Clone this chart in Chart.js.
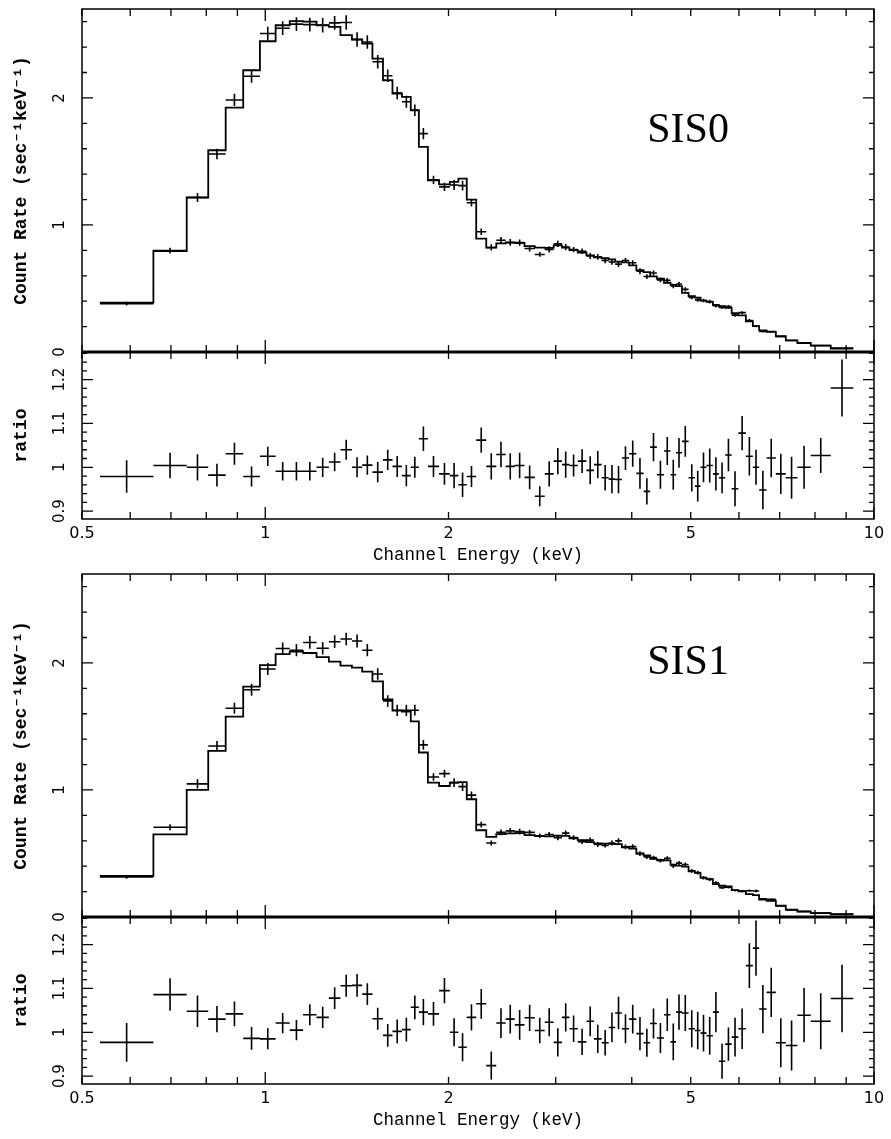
<!DOCTYPE html>
<html>
<head>
<meta charset="utf-8">
<title>SIS0 / SIS1 spectra</title>
<script src="https://cdn.jsdelivr.net/npm/chart.js@4.4.1/dist/chart.umd.min.js"></script>
<style>
  body { margin: 0; background: #fff; }
  canvas { position: absolute; left: 0; }
  #sis0 { top: 0; }
  #sis1 { top: 565px; }
</style>
</head>
<body>
<canvas id="sis0" width="891" height="567"></canvas>
<canvas id="sis1" width="891" height="567"></canvas>
<script>
// channel bin edges (keV), same grouping for both detectors
const binEdges = [0.535, 0.655, 0.743, 0.806, 0.861, 0.920, 0.980, 1.040, 1.097, 1.154,
  1.214, 1.272, 1.329, 1.388, 1.443, 1.500, 1.561, 1.618, 1.677, 1.734,
  1.788, 1.850, 1.930, 2.010, 2.076, 2.143, 2.221, 2.307, 2.396, 2.483,
  2.570, 2.666, 2.772, 2.878, 2.977, 3.072, 3.160, 3.261, 3.370, 3.467,
  3.569, 3.666, 3.757, 3.853, 3.960, 4.070, 4.183, 4.288, 4.398, 4.519,
  4.632, 4.729, 4.837, 4.959, 5.080, 5.188, 5.307, 5.437, 5.562, 5.696,
  5.837, 5.987, 6.159, 6.324, 6.476, 6.662, 6.898, 7.163, 7.484, 7.872,
  8.491, 9.247];

// SIS0
const sis0Model = [0.389, 0.795, 1.216, 1.588, 1.924, 2.218, 2.446, 2.572, 2.604, 2.600,
  2.572, 2.560, 2.494, 2.460, 2.428, 2.310, 2.139, 2.035, 2.008, 1.903,
  1.614, 1.352, 1.320, 1.339, 1.365, 1.200, 0.892, 0.821, 0.855, 0.861,
  0.858, 0.834, 0.822, 0.820, 0.839, 0.821, 0.803, 0.782, 0.761, 0.745,
  0.738, 0.729, 0.712, 0.705, 0.682, 0.645, 0.629, 0.595, 0.578, 0.545,
  0.528, 0.518, 0.466, 0.440, 0.428, 0.405, 0.395, 0.370, 0.360, 0.347,
  0.305, 0.288, 0.242, 0.203, 0.170, 0.158, 0.124, 0.092, 0.071, 0.050, 0.026];
const sis0Rate = [0.381, 0.798, 1.216, 1.559, 1.984, 2.171, 2.507, 2.549, 2.581, 2.577,
  2.572, 2.591, 2.594, 2.460, 2.440, 2.285, 2.175, 2.039, 1.970, 1.903,
  1.719, 1.355, 1.300, 1.314, 1.310, 1.175, 0.947, 0.823, 0.880, 0.863,
  0.861, 0.815, 0.768, 0.808, 0.851, 0.826, 0.806, 0.793, 0.756, 0.749,
  0.720, 0.709, 0.692, 0.720, 0.703, 0.636, 0.594, 0.622, 0.568, 0.565,
  0.519, 0.535, 0.493, 0.429, 0.410, 0.405, 0.397, 0.364, 0.351, 0.357,
  0.290, 0.310, 0.248, 0.203, 0.161, 0.161, 0.122, 0.090, 0.071, 0.051, 0.031];
const sis0RateErr = [0.014, 0.023, 0.036, 0.041, 0.048, 0.051, 0.054, 0.054, 0.055, 0.055,
  0.057, 0.054, 0.057, 0.057, 0.053, 0.053, 0.049, 0.049, 0.048, 0.046,
  0.045, 0.032, 0.033, 0.039, 0.038, 0.029, 0.026, 0.025, 0.025, 0.026,
  0.025, 0.023, 0.019, 0.024, 0.025, 0.025, 0.020, 0.021, 0.024, 0.023,
  0.021, 0.023, 0.022, 0.019, 0.020, 0.023, 0.019, 0.019, 0.018, 0.017,
  0.018, 0.018, 0.016, 0.014, 0.015, 0.014, 0.015, 0.014, 0.013, 0.013,
  0.012, 0.011, 0.011, 0.008, 0.007, 0.007, 0.006, 0.004, 0.003, 0.002, 0.002];
const sis0Ratio = [0.979, 1.004, 1.000, 0.982, 1.031, 0.979, 1.025, 0.991, 0.991, 0.991,
  1.000, 1.012, 1.040, 1.000, 1.005, 0.989, 1.017, 1.002, 0.981, 1.000,
  1.065, 1.002, 0.985, 0.981, 0.960, 0.979, 1.062, 1.002, 1.029, 1.002,
  1.004, 0.977, 0.934, 0.985, 1.014, 1.006, 1.004, 1.014, 0.993, 1.006,
  0.976, 0.973, 0.972, 1.021, 1.031, 0.986, 0.945, 1.046, 0.983, 1.037,
  0.983, 1.033, 1.059, 0.976, 0.957, 1.000, 1.004, 0.985, 0.976, 1.028,
  0.951, 1.078, 1.025, 1.000, 0.948, 1.021, 0.985, 0.976, 1.000, 1.027, 1.181];
const sis0RatioErr = [0.037, 0.029, 0.030, 0.026, 0.025, 0.023, 0.022, 0.021, 0.021, 0.021,
  0.022, 0.021, 0.023, 0.023, 0.022, 0.023, 0.023, 0.024, 0.024, 0.024,
  0.028, 0.024, 0.025, 0.029, 0.028, 0.024, 0.029, 0.030, 0.029, 0.030,
  0.029, 0.027, 0.023, 0.029, 0.030, 0.030, 0.025, 0.027, 0.032, 0.031,
  0.029, 0.032, 0.031, 0.027, 0.030, 0.035, 0.030, 0.032, 0.032, 0.032,
  0.034, 0.034, 0.035, 0.031, 0.035, 0.034, 0.039, 0.038, 0.035, 0.037,
  0.040, 0.039, 0.044, 0.040, 0.044, 0.044, 0.046, 0.048, 0.049, 0.040, 0.065];

// SIS1
const sis1Model = [0.323, 0.651, 1.000, 1.307, 1.577, 1.814, 1.982, 2.070, 2.090, 2.078,
  2.045, 2.010, 1.978, 1.963, 1.932, 1.855, 1.713, 1.624, 1.617, 1.540,
  1.295, 1.058, 1.031, 1.058, 1.062, 0.927, 0.683, 0.631, 0.652, 0.658,
  0.661, 0.645, 0.636, 0.634, 0.640, 0.638, 0.620, 0.605, 0.590, 0.580,
  0.578, 0.576, 0.574, 0.548, 0.538, 0.500, 0.485, 0.458, 0.450, 0.445,
  0.412, 0.405, 0.396, 0.360, 0.348, 0.310, 0.298, 0.258, 0.246, 0.240,
  0.212, 0.202, 0.180, 0.172, 0.136, 0.128, 0.089, 0.058, 0.042, 0.031, 0.021];
const sis1Rate = [0.316, 0.707, 1.048, 1.346, 1.643, 1.789, 1.952, 2.113, 2.100, 2.161,
  2.115, 2.167, 2.188, 2.173, 2.100, 1.913, 1.701, 1.627, 1.627, 1.628,
  1.355, 1.102, 1.129, 1.058, 1.026, 0.959, 0.727, 0.583, 0.666, 0.678,
  0.672, 0.666, 0.639, 0.649, 0.625, 0.660, 0.625, 0.592, 0.605, 0.571,
  0.564, 0.582, 0.599, 0.552, 0.554, 0.499, 0.473, 0.467, 0.444, 0.463,
  0.403, 0.424, 0.413, 0.363, 0.349, 0.309, 0.296, 0.270, 0.230, 0.234,
  0.210, 0.204, 0.207, 0.205, 0.143, 0.140, 0.087, 0.056, 0.044, 0.032, 0.023];
const sis1RateErr = [0.014, 0.024, 0.036, 0.039, 0.044, 0.047, 0.048, 0.048, 0.048, 0.050,
  0.049, 0.050, 0.049, 0.051, 0.048, 0.046, 0.045, 0.044, 0.044, 0.042,
  0.039, 0.029, 0.030, 0.034, 0.034, 0.028, 0.023, 0.020, 0.022, 0.022,
  0.022, 0.019, 0.018, 0.020, 0.020, 0.020, 0.019, 0.018, 0.020, 0.019,
  0.017, 0.020, 0.021, 0.018, 0.018, 0.019, 0.016, 0.016, 0.015, 0.016,
  0.017, 0.016, 0.016, 0.015, 0.015, 0.013, 0.013, 0.012, 0.010, 0.009,
  0.009, 0.009, 0.009, 0.011, 0.007, 0.007, 0.005, 0.003, 0.003, 0.002, 0.002];
const sis1Ratio = [0.977, 1.086, 1.048, 1.030, 1.042, 0.986, 0.985, 1.021, 1.005, 1.040,
  1.034, 1.078, 1.106, 1.107, 1.087, 1.031, 0.993, 1.002, 1.006, 1.057,
  1.046, 1.042, 1.095, 1.000, 0.966, 1.034, 1.065, 0.924, 1.021, 1.030,
  1.017, 1.033, 1.004, 1.023, 0.977, 1.034, 1.008, 0.978, 1.025, 0.985,
  0.976, 1.011, 1.044, 1.008, 1.030, 0.997, 0.976, 1.020, 0.987, 1.040,
  0.978, 1.046, 1.044, 1.008, 1.004, 0.998, 0.992, 1.046, 0.934, 0.973,
  0.989, 1.008, 1.152, 1.192, 1.053, 1.091, 0.976, 0.970, 1.039, 1.025, 1.077];
const sis1RatioErr = [0.044, 0.037, 0.036, 0.030, 0.028, 0.026, 0.024, 0.023, 0.023, 0.024,
  0.024, 0.025, 0.025, 0.026, 0.025, 0.025, 0.026, 0.027, 0.027, 0.027,
  0.030, 0.027, 0.029, 0.032, 0.032, 0.030, 0.034, 0.032, 0.034, 0.033,
  0.034, 0.030, 0.029, 0.032, 0.032, 0.032, 0.030, 0.030, 0.034, 0.032,
  0.029, 0.034, 0.037, 0.033, 0.033, 0.038, 0.032, 0.034, 0.034, 0.037,
  0.042, 0.040, 0.041, 0.042, 0.043, 0.042, 0.043, 0.046, 0.040, 0.038,
  0.044, 0.046, 0.051, 0.063, 0.055, 0.056, 0.056, 0.057, 0.062, 0.064, 0.077];

// axes
const energyTicks = [0.5, 0.6, 0.7, 0.8, 0.9, 1, 2, 3, 4, 5, 6, 7, 8, 9, 10];
const energyLabels = [0.5, 1, 2, 5, 10];
const rateLabels = [0, 1, 2];
const ratioLabels = [0.9, 1, 1.1, 1.2];

const MONO = '"Liberation Mono", "DejaVu Sans Mono", monospace';
const SANS = '"DejaVu Sans", sans-serif';

function stepLine(model) {
  const pts = [];
  model.forEach((m, i) => {
    pts.push({ x: binEdges[i], y: m }, { x: binEdges[i + 1], y: m });
  });
  return pts;
}

function crosses(vals, errs) {
  return vals.map((v, i) => ({
    x: Math.sqrt(binEdges[i] * binEdges[i + 1]), y: v,
    lo: binEdges[i], hi: binEdges[i + 1], err: errs[i]
  }));
}

function steps(from, to, step) {
  const out = [];
  for (let k = 0; from + k * step <= to + 1e-9; k++) {
    out.push({ value: Math.round((from + k * step) * 1000) / 1000 });
  }
  return out;
}

function near(v, list) {
  return list.some(l => Math.abs(l - v) < 1e-6);
}

// crosses, frame, inward ticks and the rotated y labels
const framePlugin = {
  id: 'frame',
  afterDatasetsDraw(chart, args, opts) {
    const { ctx } = chart;
    const x = chart.scales.x, y = chart.scales.y, r = chart.scales.r;
    ctx.save();
    ctx.strokeStyle = '#000';
    ctx.fillStyle = '#000';

    chart.data.datasets.forEach(ds => {
      if (!ds.cross) return;
      const s = chart.scales[ds.yAxisID];
      ctx.lineWidth = 1.6;
      ctx.beginPath();
      ds.data.forEach(p => {
        const px = x.getPixelForValue(p.x), py = s.getPixelForValue(p.y);
        ctx.moveTo(x.getPixelForValue(p.lo), py);
        ctx.lineTo(x.getPixelForValue(p.hi), py);
        ctx.moveTo(px, s.getPixelForValue(p.y - p.err));
        ctx.lineTo(px, s.getPixelForValue(p.y + p.err));
      });
      ctx.stroke();
    });

    ctx.lineWidth = 1.5;
    [y, r].forEach(s => ctx.strokeRect(x.left, s.top, x.right - x.left, s.bottom - s.top));
    ctx.lineWidth = 3;
    ctx.beginPath();
    ctx.moveTo(x.left, y.bottom);
    ctx.lineTo(x.right, y.bottom);
    ctx.stroke();

    ctx.lineWidth = 1.3;
    ctx.beginPath();
    x.ticks.forEach(t => {
      const px = x.getPixelForValue(t.value);
      const len = Number.isInteger(Math.round(Math.log10(t.value) * 1e6) / 1e6) ? 12 : 7;
      [[y.top, 1], [y.bottom, -1], [r.top, 1], [r.bottom, -1]].forEach(([py, d]) => {
        ctx.moveTo(px, py);
        ctx.lineTo(px, py + d * len);
      });
    });
    [[y, rateLabels], [r, ratioLabels]].forEach(([s, major]) => {
      s.ticks.forEach(t => {
        const py = s.getPixelForValue(t.value);
        const len = near(t.value, major) ? 11 : 5;
        ctx.moveTo(x.left, py);
        ctx.lineTo(x.left + len, py);
        ctx.moveTo(x.right, py);
        ctx.lineTo(x.right - len, py);
      });
    });
    ctx.stroke();

    ctx.font = '15px ' + SANS;
    ctx.textAlign = 'center';
    ctx.textBaseline = 'middle';
    [[y, rateLabels], [r, ratioLabels]].forEach(([s, labels]) => {
      labels.forEach(v => {
        ctx.save();
        ctx.translate(opts.labelX, s.getPixelForValue(v));
        ctx.rotate(-Math.PI / 2);
        ctx.fillText(String(v), 0, 0);
        ctx.restore();
      });
    });

    ctx.font = '42px "Liberation Serif", serif';
    ctx.fillText(opts.tag, x.getPixelForValue(opts.tagAt[0]), y.getPixelForValue(opts.tagAt[1]));
    ctx.restore();
  }
};

function makeChart(id, tag, tagAt, model, rate, rateErr, ratio, ratioErr) {
  return new Chart(document.getElementById(id), {
    type: 'line',
    data: {
      datasets: [
        { data: stepLine(model), yAxisID: 'y', borderColor: '#000', borderWidth: 1.8, pointRadius: 0 },
        { data: crosses(rate, rateErr), yAxisID: 'y', showLine: false, pointRadius: 0, cross: true },
        { data: crosses(ratio, ratioErr), yAxisID: 'r', showLine: false, pointRadius: 0, cross: true },
        { data: [{ x: 0.5, y: 1 }, { x: 10, y: 1 }], yAxisID: 'r', borderColor: '#000',
          borderWidth: 1.5, borderDash: [9, 6], pointRadius: 0 }
      ]
    },
    options: {
      responsive: false,
      animation: false,
      events: [],
      layout: { padding: { top: 9, right: 17, left: 0, bottom: 0 } },
      plugins: {
        legend: { display: false },
        tooltip: { enabled: false },
        frame: { tag: tag, tagAt: tagAt, labelX: 60 }
      },
      scales: {
        x: {
          type: 'logarithmic',
          min: 0.5,
          max: 10,
          grid: { display: false, drawTicks: false },
          border: { display: false },
          afterBuildTicks: s => { s.ticks = energyTicks.map(v => ({ value: v })); },
          afterFit: s => { s.height = 48; },
          ticks: {
            autoSkip: false,
            maxRotation: 0,
            padding: 5,
            color: '#000',
            font: { family: SANS, size: 16 },
            callback: v => near(v, energyLabels) ? String(v) : ''
          },
          title: {
            display: true,
            text: 'Channel Energy (keV)',
            color: '#000',
            font: { family: MONO, size: 17.5 },
            padding: { top: 0, bottom: 1 }
          }
        },
        // listed bottom-first: the layout stacks left axes in reverse order
        r: {
          type: 'linear',
          position: 'left',
          stack: 'det',
          stackWeight: 167,
          min: 0.882,
          max: 1.263,
          grid: { display: false, drawTicks: false },
          border: { display: false },
          afterBuildTicks: s => { s.ticks = steps(0.9, 1.26, 0.02); },
          afterFit: s => { s.width = 82; },
          ticks: { display: false },
          title: {
            display: true,
            text: 'ratio',
            color: '#000',
            font: { family: MONO, size: 18, weight: 'bold' },
            padding: { top: 11, bottom: 0 }
          }
        },
        y: {
          type: 'linear',
          position: 'left',
          stack: 'det',
          stackWeight: 343,
          min: 0,
          max: 2.7,
          grid: { display: false, drawTicks: false },
          border: { display: false },
          afterBuildTicks: s => { s.ticks = steps(0, 2.6, 0.2); },
          afterFit: s => { s.width = 82; },
          ticks: { display: false },
          title: {
            display: true,
            text: 'Count Rate (sec\u207B\u00B9keV\u207B\u00B9)',
            color: '#000',
            font: { family: MONO, size: 18, weight: 'bold' },
            padding: { top: 11, bottom: 0 }
          }
        }
      }
    },
    plugins: [framePlugin]
  });
}

makeChart('sis0', 'SIS0', [4.95, 1.74], sis0Model, sis0Rate, sis0RateErr, sis0Ratio, sis0RatioErr);
makeChart('sis1', 'SIS1', [4.95, 2.0], sis1Model, sis1Rate, sis1RateErr, sis1Ratio, sis1RatioErr);
</script>
</body>
</html>
